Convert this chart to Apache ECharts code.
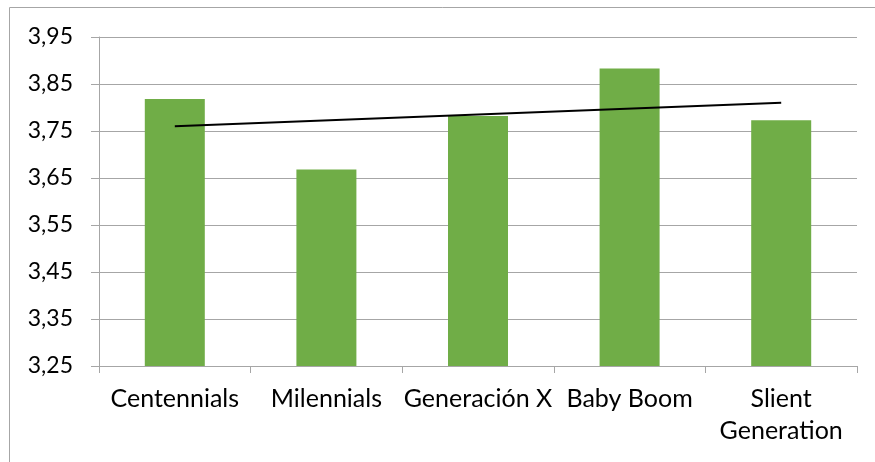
<!DOCTYPE html>
<html>
<head>
<meta charset="utf-8">
<script src="https://cdn.jsdelivr.net/npm/echarts@6/dist/echarts.min.js"></script>
<style>
html,body{margin:0;padding:0;background:#fff;}
#chart{width:875px;height:462px;}
</style>
</head>
<body>
<div id="chart"></div>
<script>
const categories = ['Centennials', 'Milennials', 'Generación X', 'Baby Boom', 'Slient Generation'];
const values = [3.818, 3.668, 3.782, 3.883, 3.773];
// linear trendline endpoints (first and last category)
const trendline = [3.76, null, null, null, 3.81];
const yMin = 3.25, yMax = 3.95, yStep = 0.1;

const FONT = 'Lato';
const chart = echarts.init(document.getElementById('chart'), null, {renderer: 'canvas'});
chart.setOption({
  backgroundColor: '#ffffff',
  animation: false,
  graphic: [{
    type: 'rect',
    shape: {x: 9.5, y: 7.5, width: 1000, height: 1000},
    style: {fill: 'none', stroke: '#A6A6A6', lineWidth: 1},
    silent: true, z: -1
  }],
  grid: {left: 99, right: 18, top: 37, bottom: 96, containLabel: false},
  xAxis: {
    type: 'category',
    data: categories,
    axisLine: {show: true, lineStyle: {color: '#A6A6A6', width: 1}},
    axisTick: {show: true, length: 7, lineStyle: {color: '#A6A6A6'}},
    axisLabel: {
      color: '#000', fontFamily: FONT, fontSize: 25, margin: 17, lineHeight: 32,
      interval: 0,
      formatter: v => v === 'Slient Generation' ? 'Slient\nGeneration' : v
    }
  },
  yAxis: {
    type: 'value',
    min: yMin, max: yMax, interval: yStep,
    axisLine: {show: true, lineStyle: {color: '#A6A6A6', width: 1}},
    axisTick: {show: true, length: 8, lineStyle: {color: '#A6A6A6'}},
    splitLine: {show: true, lineStyle: {color: '#A6A6A6', width: 1}},
    axisLabel: {
      color: '#000', fontFamily: FONT, fontSize: 23, margin: 26,
      formatter: v => v.toFixed(2).replace('.', ',')
    }
  },
  series: [{
    type: 'bar',
    data: values,
    barWidth: 60,
    itemStyle: {color: '#70AD47'}
  }, {
    type: 'line',
    data: trendline,
    connectNulls: true,
    symbol: 'none',
    lineStyle: {color: '#000', width: 2},
    z: 5
  }]
});
</script>
</body>
</html>
